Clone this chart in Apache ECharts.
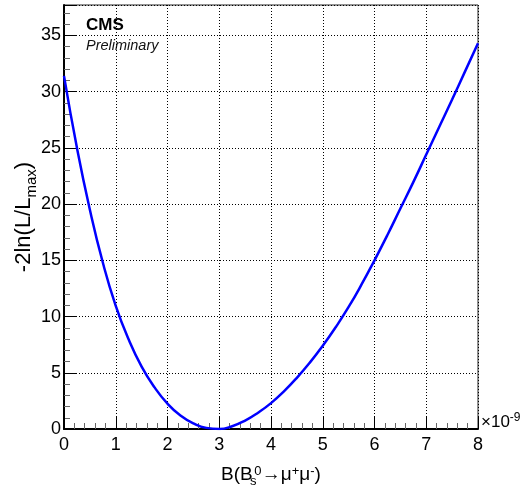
<!DOCTYPE html>
<html><head><meta charset="utf-8">
<script src="https://cdn.jsdelivr.net/npm/echarts@6/dist/echarts.min.js"></script>
<style>html,body{margin:0;padding:0;background:#fff}#c{width:529px;height:486px}</style>
</head><body><div id="c"></div>
<script>
const xValues = [0,0.25,0.5,0.75,1,1.25,1.5,1.75,2,2.25,2.5,2.75,3,3.25,3.5,3.75,4,4.25,4.5,4.75,5,5.25,5.5,5.75,6,6.25,6.5,6.75,7,7.25,7.5,7.75,8];
const nllValues = [31.4,25.0,19.5,14.8,10.95,7.95,5.55,3.7,2.25,1.2,0.5,0.1,0.01,0.25,0.75,1.45,2.3,3.35,4.55,5.9,7.4,9.05,10.85,12.85,15.0,17.25,19.6,21.95,24.4,26.85,29.3,31.8,34.3];
const xTicks = [0,1,2,3,4,5,6,7,8];
const yTicks = [0,5,10,15,20,25,30,35];

const font = 'Liberation Sans, Arial, sans-serif';
const chart = echarts.init(document.getElementById('c'));
chart.setOption({
  animation:false,
  grid:{left:64,right:51,top:5,bottom:57,containLabel:false,outerBoundsMode:'none',show:true,borderColor:'#222',borderWidth:1,backgroundColor:'transparent'},
  xAxis:{type:'value',min:0,max:8,interval:1,
    axisLine:{lineStyle:{color:'#000',width:2}},
    axisTick:{inside:true,length:12,lineStyle:{color:'#000'}},
    minorTick:{show:true,splitNumber:5,length:6,lineStyle:{color:'#666'}},
    splitLine:{show:true,lineStyle:{color:'#000',type:[1,2],width:1}},
    axisLabel:{color:'#000',fontFamily:font,fontSize:18,margin:7,
      formatter:v=>xTicks.includes(v)?String(v):''},
    name:'{n|B(B}{sub|s}{sup|0}{n|→μ}{sup2|+}{n|μ}{sup2|-}{n|)}',
    nameLocation:'middle',nameGap:33,nameMoveOverlap:false,
    nameTextStyle:{rich:{
      n:{fontFamily:font,fontSize:19,color:'#000'},
      sub:{fontFamily:font,fontSize:13,color:'#000',verticalAlign:'top',padding:[13,0,0,0],width:1},
      sup:{fontFamily:font,fontSize:13,color:'#000',verticalAlign:'bottom',padding:[0,0,10,0],width:8},
      sup2:{fontFamily:font,fontSize:13,color:'#000',verticalAlign:'bottom',padding:[0,0,10,0]}
    }}
  },
  yAxis:{type:'value',min:0,max:37.7,interval:5,
    axisLine:{show:true,lineStyle:{color:'#000',width:2}},
    axisTick:{inside:true,length:12,lineStyle:{color:'#000'}},
    minorTick:{show:true,splitNumber:5,length:6,lineStyle:{color:'#666'}},
    splitLine:{show:true,lineStyle:{color:'#000',type:[1,2],width:1}},
    axisLabel:{color:'#000',fontFamily:font,fontSize:18,margin:3,showMaxLabel:false,
      formatter:v=>yTicks.includes(v)?String(v):''},
    name:'{n|-2ln(L/L}{sub|max}{n|)}',
    nameLocation:'middle',nameGap:25,nameRotate:90,nameMoveOverlap:false,
    nameTextStyle:{rich:{
      n:{fontFamily:font,fontSize:22,color:'#000'},
      sub:{fontFamily:font,fontSize:15,color:'#000',verticalAlign:'top',padding:[15,0,0,0]}
    }}
  },
  graphic:[
    {type:'text',left:86,top:17,style:{text:'CMS',font:'bold 17px '+font,fill:'#000'}},
    {type:'text',left:86,top:38,style:{text:'Preliminary',font:'italic 14.5px '+font,fill:'#111'}},
    {type:'text',left:481,top:412,style:{text:'{a|×10}{b|-9}',rich:{
      a:{fontFamily:font,fontSize:17,color:'#000'},
      b:{fontFamily:font,fontSize:12,color:'#000',verticalAlign:'bottom',padding:[0,0,9,0]}}}}
  ],
  series:[{type:'line',data:xValues.map((x,i)=>[x,nllValues[i]]),smooth:0.5,showSymbol:false,
    lineStyle:{color:'#0000ff',width:2.5},clip:true}]
});
</script></body></html>
